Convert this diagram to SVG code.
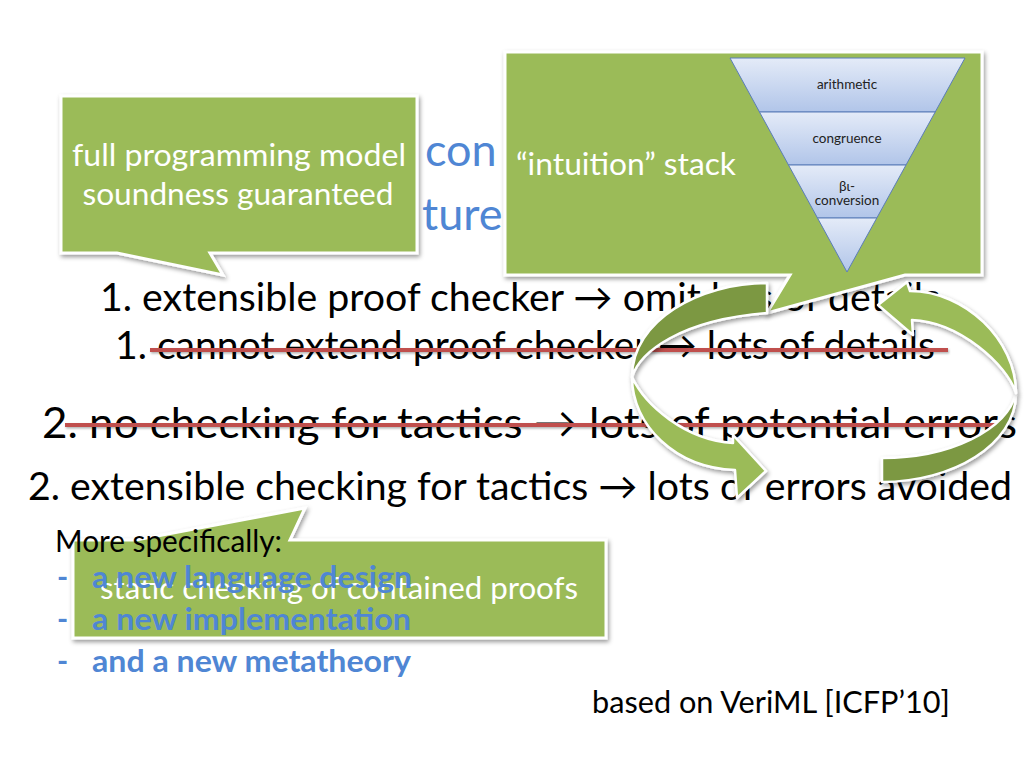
<svg xmlns="http://www.w3.org/2000/svg" width="1024" height="768" viewBox="0 0 1024 768">
<defs>
<filter id="sh" x="-10%" y="-10%" width="130%" height="140%">
<feDropShadow dx="1.5" dy="2.5" stdDeviation="2" flood-color="#000" flood-opacity="0.4"/>
</filter>
<filter id="lsh" filterUnits="userSpaceOnUse" x="0" y="0" width="1024" height="768">
<feDropShadow dx="1" dy="1.5" stdDeviation="1" flood-color="#000" flood-opacity="0.3"/>
</filter>
<linearGradient id="band" x1="0" y1="0" x2="0" y2="1">
<stop offset="0" stop-color="#e4ebf8"/>
<stop offset="1" stop-color="#b1c5e9"/>
</linearGradient>
</defs>
<style>
text { font-family: Lato, "Liberation Sans", "DejaVu Sans", sans-serif; }
.title { fill: #4f86d4; font-size: 45px; }
.row { fill: #000; }
.strike { stroke: #c0504d; stroke-width: 4; filter: url(#lsh); }
.co { fill: #9bbb59; stroke: #fff; stroke-width: 3; stroke-linejoin: miter; filter: url(#sh); }
.wt { fill: #fff; font-size: 31px; }
.band { fill: url(#band); stroke: #5b7db8; stroke-width: 1; }
.lbl { fill: #222; font-size: 13.5px; text-anchor: middle; }
.dark { fill: #7b9843; stroke: #fff; stroke-width: 2.5; stroke-linejoin: round; filter: url(#sh); }
.light { fill: #9bbb59; stroke: #fff; stroke-width: 2.5; stroke-linejoin: round; filter: url(#sh); }
.blue { fill: #4f86d4; font-size: 30px; font-weight: bold; }
</style>
<rect width="1024" height="768" fill="#fff"/>

<g id="title">
<text class="title" x="425" y="166">con</text>
<text class="title" x="422" y="230">ture</text>
</g>

<g id="rows">
<text class="row" x="100" y="311" font-size="38" textLength="840" lengthAdjust="spacingAndGlyphs">1. extensible proof checker → omit lots of details</text>
<text class="row" x="115" y="359" font-size="38" textLength="820" lengthAdjust="spacingAndGlyphs">1. cannot extend proof checker → lots of details</text>
<line class="strike" x1="150" y1="350" x2="948" y2="350"/>
<text class="row" x="42" y="438" font-size="43" textLength="975" lengthAdjust="spacingAndGlyphs">2. no checking for tactics → lots of potential errors</text>
<line class="strike" x1="65" y1="425" x2="1000" y2="425"/>
<text class="row" x="28" y="500" font-size="38" textLength="984" lengthAdjust="spacingAndGlyphs">2. extensible checking for tactics → lots of errors avoided</text>
</g>

<g id="callout-model">
<path class="co" d="M61,96 H417 V253 H210 L223,275 L117,253 H61 Z"/>
<text class="wt" x="239" y="166" text-anchor="middle" textLength="334" lengthAdjust="spacingAndGlyphs">full programming model</text>
<text class="wt" x="238" y="205" text-anchor="middle" textLength="311" lengthAdjust="spacingAndGlyphs">soundness guaranteed</text>
</g>

<g id="callout-intuition">
<path class="co" d="M505,52 H982 V275 H905 L767,313 L790,275 H505 Z"/>
<text class="wt" x="516" y="175" textLength="220" lengthAdjust="spacingAndGlyphs">“intuition” stack</text>
<g id="funnel">
<polygon class="band" points="730,58 965,58 935.2,112 759.5,112"/>
<polygon class="band" points="759.5,112 935.2,112 906,165 788.5,165"/>
<polygon class="band" points="788.5,165 906,165 876.8,218 817.5,218"/>
<polygon class="band" points="817.5,218 876.8,218 847,272"/>
<text class="lbl" x="847" y="89">arithmetic</text>
<text class="lbl" x="847" y="143">congruence</text>
<text class="lbl" x="847" y="191">βι-</text>
<text class="lbl" x="847" y="205">conversion</text>
</g>
</g>

<g id="connectors">
<path class="dark" d="M767,283 C700,283 632,320 632,377 C640,352 680,320 767,313 Z"/>
<path class="light" d="M632,377 C632,425 675,468 735,470 L737,498 L766,471 L733,435 L733,443 C685,440 645,405 632,377 Z"/>
<path class="dark" d="M882,482 C952,482 1016,445 1016,393 C1007,430 950,458 882,458 Z"/>
<path class="light" d="M1016,393 C1016,340 965,291 910,291 L907,282 L878,305 L913,335 L912,320 C960,322 1007,365 1016,393 Z"/>
</g>

<g id="callout-static">
<path class="co" d="M73,540 H136 L305,508 L290,540 H606 V638 H73 Z"/>
<text class="wt" x="339" y="599" text-anchor="middle" textLength="478" lengthAdjust="spacingAndGlyphs">static checking of contained proofs</text>
</g>

<g id="specifics">
<text class="row" x="55" y="552" font-size="31" textLength="227" lengthAdjust="spacingAndGlyphs">More specifically:</text>
<text class="blue" x="57" y="588" font-weight="normal">-</text>
<text class="blue" x="92" y="588" textLength="320" lengthAdjust="spacingAndGlyphs">a new language design</text>
<text class="blue" x="57" y="630" font-weight="normal">-</text>
<text class="blue" x="92" y="630" textLength="319" lengthAdjust="spacingAndGlyphs">a new implementation</text>
<text class="blue" x="57" y="672" font-weight="normal">-</text>
<text class="blue" x="92" y="672" textLength="319" lengthAdjust="spacingAndGlyphs">and a new metatheory</text>
</g>

<g id="footer">
<text class="row" x="592" y="713" font-size="31" textLength="358" lengthAdjust="spacingAndGlyphs">based on VeriML [ICFP’10]</text>
</g>
</svg>
